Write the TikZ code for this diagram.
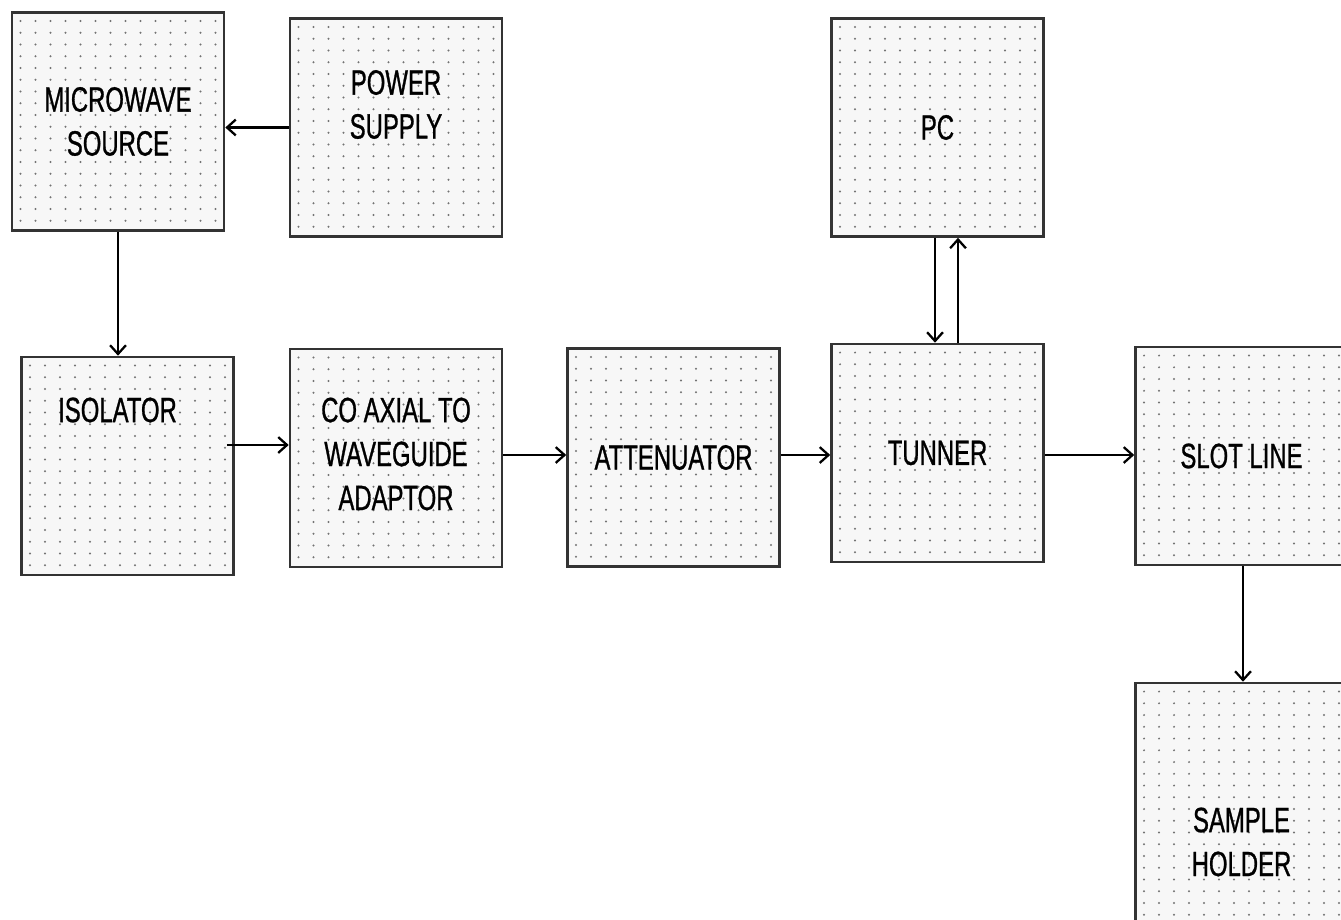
\documentclass[tikz,border=0pt]{standalone}
\usepackage{fontspec}
\newfontfamily\boxfont{Liberation Sans}[FakeStretch=0.68, FakeBold=0.8]
\usetikzlibrary{arrows.meta}
\tikzset{
  txt/.style={align=center, font={\boxfont\fontsize{20}{25}\selectfont}},
  blk/.style={txt, draw=black!80, line width=1.5pt, fill=black!3,
    minimum width=4.24cm, minimum height=4.36cm, inner sep=0pt,
    path picture={
      \foreach \i in {0,...,14}{
        \foreach \j in {0,...,27}{
          \fill[black!55] ([xshift=0.17cm+\i*0.3cm, yshift=-0.17cm-\j*0.235cm]path picture bounding box.north west) circle (0.6pt);
        }
      }
    }},
  arr/.style={line width=1.3pt, -{Straight Barb[length=5pt, width=9pt]}}
}
\begin{document}
\begin{tikzpicture}[x=0.02cm, y=-0.02cm]
    \useasboundingbox (0,0) rectangle (1341,919);
    \node[blk] (mw) at (118,121.5) {MICROWAVE\\SOURCE};
    \node[blk, label={[txt, yshift=0.46cm]center:{POWER\\SUPPLY}}] (ps) at (396,127.5) {};
    \node[blk] (pc) at (937.5,127.5) {PC};
    \node[blk, label={[txt, xshift=-0.2cm, yshift=1.12cm]center:ISOLATOR}] (iso) at (127.5,466) {};
    \node[blk, label={[txt, yshift=0.08cm]center:{CO AXIAL TO\\WAVEGUIDE\\ADAPTOR}}] (coax) at (396,458) {};
    \node[blk] (att) at (673.5,457.5) {ATTENUATOR};
    \node[blk] (tun) at (937.5,453) {TUNNER};
    \node[blk] (slot) at (1241.5,456) {SLOT LINE};
    \node[blk, minimum height=6.36cm] (sh) at (1241.5,842) {SAMPLE\\HOLDER};
    \coordinate (row) at (0,455); \coordinate (isorow) at (0,445);
    \coordinate (dn) at (935,0); \coordinate (up) at (958,0);
    \draw[arr] (ps.west) -- (ps.west -| mw.east);
    \draw[arr] (mw.south) -- (mw.south |- iso.north);
    \draw[arr] ([xshift=-0.16cm]iso.east |- isorow) -- (coax.west |- isorow);
    \draw[arr] (coax.east |- row) -- (att.west |- row);
    \draw[arr] (att.east |- row) -- (tun.west |- row);
    \draw[arr] (tun.east |- row) -- (slot.west |- row);
    \draw[arr] (pc.south -| dn) -- (tun.north -| dn);
    \draw[arr] (tun.north -| up) -- (pc.south -| up);
    \draw[arr] (slot.south -| 1243,0) -- (sh.north -| 1243,0);
\end{tikzpicture}
\end{document}
